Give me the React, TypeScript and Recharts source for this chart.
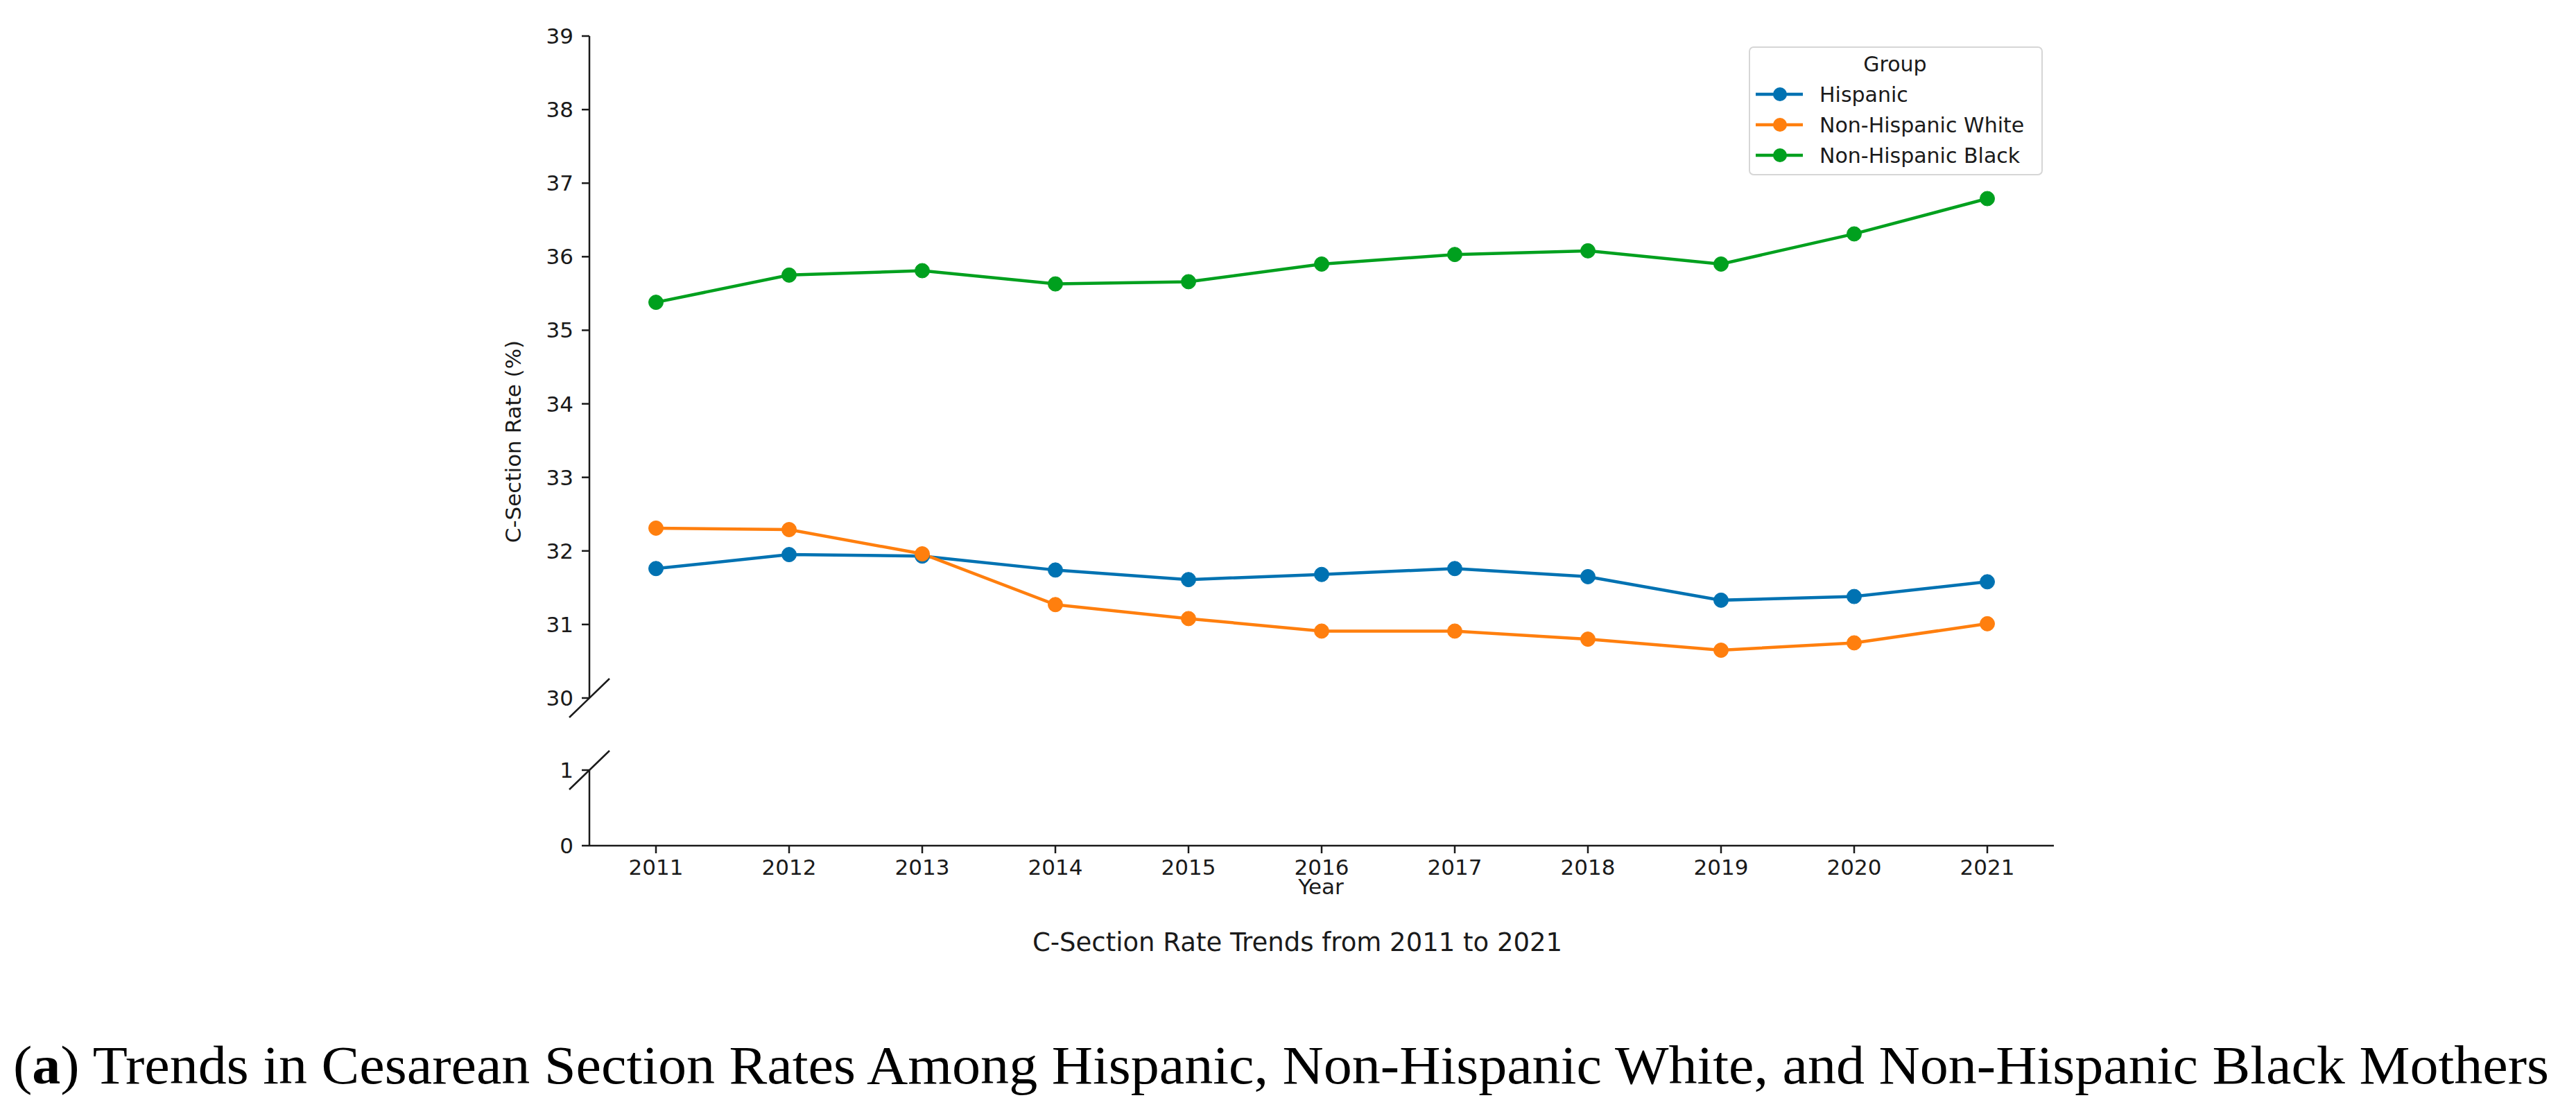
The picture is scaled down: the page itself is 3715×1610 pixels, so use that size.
import React from 'react';
import { LineChart, Line, XAxis, YAxis, Legend, ReferenceLine } from 'recharts';

// C-section rate (%) by year
const years = [2011, 2012, 2013, 2014, 2015, 2016, 2017, 2018, 2019, 2020, 2021];
const hispanic = [31.76, 31.95, 31.93, 31.74, 31.61, 31.68, 31.76, 31.65, 31.33, 31.38, 31.58];
const nonHispanicWhite = [32.31, 32.29, 31.96, 31.27, 31.08, 30.91, 30.91, 30.8, 30.65, 30.75, 31.01];
const nonHispanicBlack = [35.38, 35.75, 35.81, 35.63, 35.66, 35.9, 36.03, 36.08, 35.9, 36.31, 36.79];

// broken y axis: upper panel 30–39, lower panel 0–1
const upperTicks = [30, 31, 32, 33, 34, 35, 36, 37, 38, 39];
const lowerTicks = [0, 1];

const groups = [
  { key: 'hispanic', name: 'Hispanic', color: '#0072B2' },
  { key: 'white', name: 'Non-Hispanic White', color: '#FF7F0E' },
  { key: 'black', name: 'Non-Hispanic Black', color: '#00A01E' },
];

const data = years.map((year, i) => ({
  year,
  hispanic: hispanic[i],
  white: nonHispanicWhite[i],
  black: nonHispanicBlack[i],
}));

const FONT = "'DejaVu Sans', sans-serif";
const INK = '#1a1a1a';
const X_DOMAIN: [number, number] = [2010.5, 2021.5];

const tickStyle = { fill: INK, fontSize: 31, fontFamily: FONT };
const axisStroke = { stroke: INK, strokeWidth: 2.5 };

// half-size of the "//" break marks, in data units
const BREAK_DX = 0.151;
const BREAK_DY_UPPER = 0.264;
const BREAK_DY_LOWER = 0.257;

function GroupLegend({ payload }: any) {
  // keep the plotting order, not the alphabetical one
  const order = groups.map((g) => g.name);
  const items = [...(payload ?? [])].sort(
    (a: any, b: any) => order.indexOf(a.value) - order.indexOf(b.value),
  );
  return (
    <div
      style={{
        width: 424,
        height: 186,
        boxSizing: 'border-box',
        border: '2px solid #d6d6d6',
        borderRadius: 7,
        background: 'rgba(255,255,255,0.8)',
      }}
    >
      <svg width={420} height={182} style={{ display: 'block' }}>
        <text x={209} y={34} textAnchor="middle" fontSize={30} fontFamily={FONT} fill={INK}>
          Group
        </text>
        {items.map((item: any, i: number) => {
          const cy = 67 + i * 44;
          return (
            <g key={item.value}>
              <line x1={8} x2={76} y1={cy} y2={cy} stroke={item.color} strokeWidth={4.5} />
              <circle cx={43} cy={cy} r={10} fill={item.color} />
              <text x={100} y={cy + 11} fontSize={30} fontFamily={FONT} fill={INK}>
                {item.value}
              </text>
            </g>
          );
        })}
      </svg>
    </div>
  );
}

export default function App() {
  return (
    <div style={{ position: 'absolute', left: 0, top: 0, width: 3715, height: 1610, background: '#fff' }}>
      {/* lower panel: 0–1 with the year axis */}
      <div style={{ position: 'absolute', left: 0, top: 1040 }}>
        <LineChart width={3000} height={240} data={data} margin={{ top: 71, right: 38, bottom: 0, left: 750 }}>
          <XAxis
            type="number"
            dataKey="year"
            domain={X_DOMAIN}
            allowDataOverflow
            ticks={years}
            interval={0}
            height={60}
            tick={tickStyle}
            tickSize={11}
            tickMargin={9}
            axisLine={axisStroke}
            tickLine={axisStroke}
          />
          <YAxis
            type="number"
            domain={[0, 1]}
            allowDataOverflow
            ticks={lowerTicks}
            interval={0}
            width={100}
            tick={tickStyle}
            tickSize={11}
            tickMargin={12}
            axisLine={axisStroke}
            tickLine={axisStroke}
          />
          <ReferenceLine
            ifOverflow="visible"
            segment={[
              { x: X_DOMAIN[0] - BREAK_DX, y: 1 - BREAK_DY_LOWER },
              { x: X_DOMAIN[0] + BREAK_DX, y: 1 + BREAK_DY_LOWER },
            ]}
            stroke={INK}
            strokeWidth={2.5}
          />
        </LineChart>
      </div>

      {/* upper panel: 30–39 with the data */}
      <div style={{ position: 'absolute', left: 0, top: 0 }}>
        <LineChart width={3000} height={1047} data={data} margin={{ top: 52, right: 38, bottom: 40, left: 750 }}>
          <XAxis type="number" dataKey="year" domain={X_DOMAIN} hide />
          <YAxis
            type="number"
            domain={[30, 39]}
            ticks={upperTicks}
            interval={0}
            width={100}
            tick={tickStyle}
            tickSize={11}
            tickMargin={12}
            axisLine={axisStroke}
            tickLine={axisStroke}
          />
          <ReferenceLine
            ifOverflow="visible"
            segment={[
              { x: X_DOMAIN[0] - BREAK_DX, y: 30 - BREAK_DY_UPPER },
              { x: X_DOMAIN[0] + BREAK_DX, y: 30 + BREAK_DY_UPPER },
            ]}
            stroke={INK}
            strokeWidth={2.5}
          />
          {groups.map((g) => (
            <Line
              key={g.key}
              type="linear"
              dataKey={g.key}
              name={g.name}
              stroke={g.color}
              strokeWidth={4.5}
              dot={{ r: 10.5, fill: g.color, stroke: g.color, strokeWidth: 1 }}
              activeDot={false}
              isAnimationActive={false}
            />
          ))}
          <Legend
            layout="vertical"
            align="center"
            verticalAlign="middle"
            content={<GroupLegend />}
            wrapperStyle={{ left: 2522, top: 67, width: 424, height: 186 }}
          />
        </LineChart>
      </div>

      {/* free text: axis titles, subtitle and figure caption */}
      <svg
        width={3715}
        height={1610}
        style={{ position: 'absolute', left: 0, top: 0, pointerEvents: 'none' }}
      >
        <text
          x={751}
          y={637}
          transform="rotate(-90 751 637)"
          textAnchor="middle"
          fontSize={31}
          fontFamily={FONT}
          fill={INK}
        >
          C-Section Rate (%)
        </text>
        <text x={1905} y={1290} textAnchor="middle" fontSize={31} fontFamily={FONT} fill={INK}>
          Year
        </text>
        <text x={1871} y={1372} textAnchor="middle" fontSize={37} fontFamily={FONT} fill={INK}>
          C-Section Rate Trends from 2011 to 2021
        </text>
        <text
          x={19}
          y={1563}
          fontSize={79}
          fontFamily="'Liberation Serif', serif"
          fill="#000"
          textLength={3657}
          lengthAdjust="spacingAndGlyphs"
        >
          (<tspan fontWeight="bold">a</tspan>) Trends in Cesarean Section Rates Among Hispanic, Non-Hispanic White, and
          Non-Hispanic Black Mothers
        </text>
      </svg>
    </div>
  );
}
